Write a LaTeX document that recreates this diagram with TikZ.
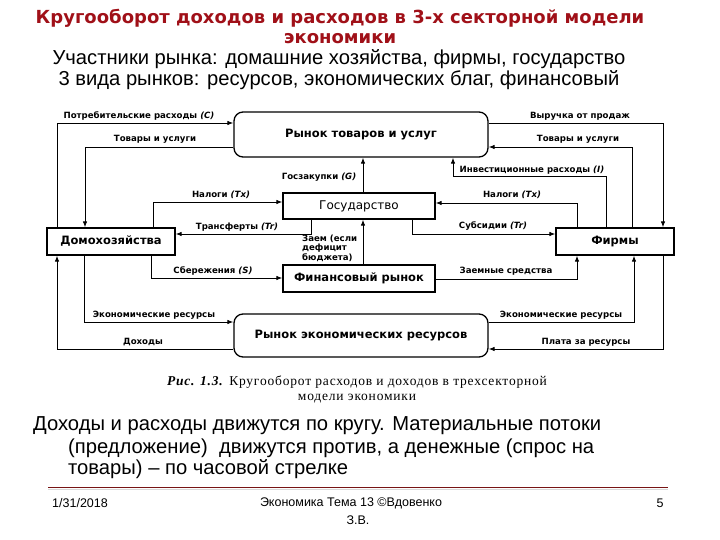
\documentclass[tikz,border=0pt]{standalone}
\usepackage{fontspec}
\setmainfont{Liberation Sans}
\newfontfamily\serifcap{Liberation Serif}
\newfontfamily\dvs{DejaVu Sans}
\usetikzlibrary{arrows.meta}
\definecolor{titlered}{RGB}{160,16,24}
\definecolor{rulered}{RGB}{120,20,20}
\tikzset{
  box/.style={draw, line width=1.3pt, inner sep=0pt, font=\dvs\fontsize{11.5}{12}\selectfont\bfseries},
  rbox/.style={box, rounded corners=9pt},
  arr/.style={line width=0.9pt, -{Latex[length=6pt,width=4.5pt]}},
  lab/.style={inner sep=0pt, font=\dvs\fontsize{8.6}{10}\selectfont\bfseries},
  big/.style={inner sep=0pt, font=\fontsize{20.2}{22}\selectfont},
  foot/.style={inner sep=0pt, font=\fontsize{12.5}{14}\selectfont},
  ttl/.style={inner sep=0pt, text=titlered, font=\dvs\fontsize{18}{20}\selectfont\bfseries},
  capt/.style={inner sep=0pt, font=\serifcap\addfontfeature{LetterSpace=6}\fontsize{13.5}{14}\selectfont},
}
\begin{document}
\begin{tikzpicture}[x=1pt,y=-1pt]
\useasboundingbox (0,0) rectangle (720,540);
% title
\node[ttl] (t1) at (340,18) {Кругооборот доходов и расходов в 3-х секторной модели};
\node[ttl] (t2) at (340,39) {экономики};
\node[big] (t3) at (339,59) {Участники рынка: домашние хозяйства, фирмы, государство};
\node[big] (t4) at (339,80) {3 вида рынков: ресурсов, экономических благ, финансовый};
% boxes
\node[rbox, minimum width=254pt, minimum height=45pt] (gm) at (361,134.5) {Рынок товаров и услуг};
\node[box, minimum width=152pt, minimum height=26pt, font=\dvs\fontsize{12}{12}\selectfont] (gov) at (359,206) {Государство};
\node[box, minimum width=128pt, minimum height=27pt] (hh) at (111,241.5) {Домохозяйства};
\node[box, minimum width=118pt, minimum height=27pt] (firm) at (615,241.5) {Фирмы};
\node[box, minimum width=152pt, minimum height=27pt] (fin) at (359,278.5) {Финансовый рынок};
\node[rbox, minimum width=254pt, minimum height=43pt] (rm) at (361,335.5) {Рынок экономических ресурсов};
% connectors
\draw[arr] (hh.north -| 57,0) |- (gm.west |- 0,123);
\draw[arr] (gm.west |- 0,147) -| (hh.north -| 85,0);
\draw[arr] (gm.east |- 0,123) -| (firm.north -| 663,0);
\draw[arr] (firm.north -| 632,0) |- (gm.east |- 0,147);
\draw[arr] (firm.north -| 606,0) |- (453,176) -- (gm.south -| 453,0);
\draw[arr] (gov.north -| 363,0) -- (gm.south -| 363,0);
\draw[arr] (hh.north -| 153,0) |- (gov.west |- 0,202);
\draw[arr] (gov.south -| 311,0) |- (hh.east |- 0,234);
\draw[arr] (firm.north -| 577,0) |- (gov.east |- 0,203);
\draw[arr] (gov.south -| 412,0) |- (firm.west |- 0,234);
\draw[arr] (fin.north -| 363,0) -- (gov.south -| 363,0);
\draw[arr] (hh.south -| 151,0) |- (fin.west |- 0,278);
\draw[arr] (fin.east |- 0,279) -| (firm.south -| 577,0);
\draw[arr] (hh.south -| 84,0) |- (rm.west |- 0,322);
\draw[arr] (rm.west |- 0,349) -| (hh.south -| 57,0);
\draw[arr] (rm.east |- 0,322) -| (firm.south -| 634,0);
\draw[arr] (firm.south -| 663,0) |- (rm.east |- 0,349);
% labels
\node[lab] (l1) at (139,116) {Потребительские расходы \textit{(C)}};
\node[lab] (l2) at (155,139) {Товары и услуги};
\node[lab] (l3) at (319,177) {Госзакупки \textit{(G)}};
\node[lab] (l4) at (221,195) {Налоги \textit{(Tx)}};
\node[lab] (l5) at (237,227) {Трансферты \textit{(Tr)}};
\node[lab, align=left, anchor=west, font=\dvs\fontsize{8.6}{9.5}\selectfont\bfseries] (l6) at (302,248) {Заем (если\\дефицит\\бюджета)};
\node[lab] (l7) at (213,271) {Сбережения \textit{(S)}};
\node[lab] (l8) at (154,315) {Экономические ресурсы};
\node[lab] (l9) at (143,342) {Доходы};
\node[lab] (l10) at (580,116) {Выручка от продаж};
\node[lab] (l11) at (578,139) {Товары и услуги};
\node[lab] (l12) at (532,170) {Инвестиционные расходы \textit{(I)}};
\node[lab] (l13) at (512,195) {Налоги \textit{(Tx)}};
\node[lab] (l14) at (493,226) {Субсидии \textit{(Tr)}};
\node[lab] (l15) at (506,271) {Заемные средства};
\node[lab] (l16) at (561,315) {Экономические ресурсы};
\node[lab] (l17) at (586,342) {Плата за ресурсы};
% caption
\node[capt] (cap1) at (357,382.5) {\textbf{\textit{Рис. 1.3.}} Кругооборот расходов и доходов в трехсекторной};
\node[capt] (cap2) at (357,399) {модели экономики};
% bottom text
\node[big, anchor=west] (b1) at (33,426) {Доходы и расходы движутся по кругу. Материальные потоки};
\node[big, anchor=west] (b2) at (68,448) {(предложение)\ \ движутся против, а денежные (спрос на};
\node[big, anchor=west] (b3) at (68,469) {товары) – по часовой стрелке};
% rule and footer
\draw[rulered, line width=1pt] (48,487) -- (668,487);
\draw[black!15, line width=1pt] (48,489.5) -- (668,489.5);
\node[foot, anchor=west] (f1) at (52,503) {1/31/2018};
\node[foot] (f2) at (351,503) {Экономика Тема 13 ©Вдовенко};
\node[foot] (f3) at (358,520) {З.В.};
\node[foot] (f4) at (660,503) {5};
\end{tikzpicture}
\end{document}
